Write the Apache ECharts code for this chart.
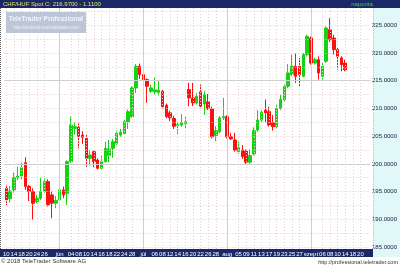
<!DOCTYPE html>
<html><head><meta charset="utf-8">
<script src="https://cdn.jsdelivr.net/npm/echarts@6/dist/echarts.min.js"></script>
<style>html,body{margin:0;padding:0;background:#fff}#c{width:400px;height:266px}</style>
</head><body><div id="c"></div><script>
// ---- data ----
const openV  = [195.6,193.7,195.3,197.5,197.8,200.2,195.9,195.0,193.2,193.8,195.0,196.8,194.4,192.9,193.5,195.3,194.7,200.4,206.4,206.6,205.2,204.6,201.0,202.2,200.7,199.2,200.4,201.5,202.8,203.7,205.2,205.5,207.6,208.5,213.7,217.6,216.1,215.2,213.1,213.0,212.9,213.1,210.6,209.2,208.2,206.9,207.0,207.3,213.4,211.9,211.0,213.0,210.8,211.2,209.9,205.1,205.8,208.3,208.5,204.9,204.3,202.2,202.5,202.3,200.3,201.8,206.1,207.9,209.7,209.4,207.4,206.7,210.0,211.6,214.0,216.1,217.6,217.6,215.8,219.7,222.7,218.2,218.8,215.8,218.5,224.2,222.7,220.6,219.1,218.2];
const closeV = [193.5,195.1,197.5,197.8,199.3,195.9,195.0,192.9,193.8,195.0,196.8,192.6,192.9,193.4,195.3,194.4,200.4,207.0,206.7,204.9,204.8,201.0,201.6,200.4,199.2,200.4,202.8,202.7,204.0,205.5,205.7,207.6,209.4,213.7,217.6,216.1,215.2,214.0,213.7,213.4,213.3,210.3,208.5,208.3,206.8,207.1,207.4,207.6,211.9,211.0,212.2,210.4,212.5,210.0,204.9,206.0,208.3,208.5,204.9,204.5,202.5,202.9,201.3,200.3,201.5,206.0,207.9,209.3,209.2,207.0,206.7,210.0,211.6,214.0,216.4,217.6,215.8,216.1,219.7,223.0,218.2,218.8,216.4,217.6,224.5,222.4,220.6,219.4,217.9,216.97];
const lowV   = [192.6,193.0,194.8,197.1,197.1,195.3,193.3,189.9,192.9,193.5,194.8,192.3,190.2,192.0,193.2,193.8,192.6,200.2,205.3,202.8,203.6,199.5,199.7,199.4,199.0,199.0,200.2,200.3,201.1,203.4,204.9,205.2,206.3,208.3,212.8,215.3,214.0,211.0,212.8,212.5,212.3,210.0,208.2,207.7,206.3,205.2,206.7,206.4,210.4,210.4,210.7,210.0,208.8,209.7,204.6,204.1,205.5,207.9,204.6,204.3,202.2,201.8,200.9,200.0,200.0,201.5,205.8,207.6,207.5,206.7,206.0,206.4,209.7,211.3,213.7,215.8,214.6,214.0,215.6,219.4,217.9,217.9,215.2,215.2,218.2,222.0,219.7,217.0,216.7,216.7];
const highV  = [196.2,196.0,198.4,199.5,200.2,201.2,196.2,195.6,194.4,197.5,197.4,197.2,195.0,194.2,195.9,195.9,200.6,208.5,207.5,207.3,205.9,205.4,202.4,202.4,201.0,201.4,204.0,204.3,204.5,206.0,206.3,208.0,209.8,214.0,218.0,218.1,218.8,215.4,214.3,215.6,214.9,213.4,210.9,209.6,208.7,207.6,209.0,208.5,214.6,214.6,212.8,214.3,213.1,212.6,210.3,206.8,208.6,211.9,208.8,205.6,205.6,204.0,203.4,202.6,202.6,206.6,209.7,209.8,211.6,210.3,208.8,210.6,212.5,214.3,218.0,219.7,220.0,219.1,220.0,223.3,223.0,219.1,219.4,218.2,224.8,226.3,223.3,220.9,219.4,218.8];
const tickIdx  = [0,2,4,6,8,10,14,17,19,21,23,25,27,29,31,33,36,39,41,43,45,47,49,51,53,55,58,61,63,65,67,69,71,73,75,77,80,83,85,87,89,91,93];
const tickText = ['10','14','18','20','24','26','jún','04','08','10','14','16','18','22','24','28','júl','06','08','12','14','16','20','22','26','28','aug','05','09','11','13','17','19','23','25','27','szept','06','08','10','14','18','20'];
const monthIdx = [14,36,58,80];
const yTicks = [185,190,195,200,205,210,215,220,225];
const yDotted = [185,187.5,190,192.5,195,197.5,202.5,205,207.5,210,212.5,217.5,220,222.5,225,227.5];
const ySolid = [200,215];
const slots = 96;
const lastPrice = 216.97;

// ---- build ----
const cats = [];
for (let i = 0; i < slots; i++) cats.push('d' + i);
const lbl = {};
tickIdx.forEach((k, j) => { lbl[k] = tickText[j]; });
const candles = openV.map((o, i) => [o, closeV[i], lowV[i], highV[i]]);

const gridLines = [];
tickIdx.forEach(k => { if (monthIdx.indexOf(k) < 0) gridLines.push({xAxis: cats[k], lineStyle: {color: '#e6cccc', type: [1, 2], width: 1}}); });
monthIdx.forEach(k => gridLines.push({xAxis: cats[k], lineStyle: {color: '#cfcfcf', type: 'solid', width: 1}}));
yDotted.forEach(v => gridLines.push({yAxis: v, lineStyle: {color: '#e6cccc', type: [1, 2], width: 1}}));
ySolid.forEach(v => gridLines.push({yAxis: v, lineStyle: {color: '#cfcfcf', type: 'solid', width: 1}}));

const FONT = 'Liberation Sans';
const chart = echarts.init(document.getElementById('c'));
chart.setOption({
  animation: false,
  backgroundColor: '#ffffff',
  grid: {left: 4, right: 27, top: 8, bottom: 17},
  xAxis: {
    type: 'category', data: cats, boundaryGap: true,
    axisLine: {show: false}, axisTick: {show: false}, splitLine: {show: false},
    axisLabel: {interval: 0, formatter: (v, i) => lbl[i] || '', color: '#ffffff', fontSize: 6, fontFamily: FONT, margin: 2}
  },
  yAxis: {
    type: 'value', position: 'right', min: 184.64, max: 228.12, scale: true,
    axisLine: {show: false}, axisTick: {show: false}, splitLine: {show: false},
    axisLabel: {customValues: yTicks, formatter: v => v.toFixed(4), color: '#1a1a3a', fontSize: 6, fontFamily: FONT, margin: 2, align: 'left'}
  },
  series: [
    {
      type: 'scatter', data: [], z: 1, silent: true,
      markLine: {silent: true, symbol: ['none', 'none'], label: {show: false}, animation: false, data: gridLines}
    },
    {
      type: 'candlestick', data: candles, z: 3, barWidth: 3,
      itemStyle: {color: '#13d313', color0: '#ff1010', borderColor: '#13d313', borderColor0: '#ff1010', borderWidth: 1},
      markLine: {
        silent: true, symbol: ['none', 'none'], animation: false,
        lineStyle: {opacity: 0},
        label: {show: true, position: 'end', distance: 0, formatter: lastPrice.toFixed(4), backgroundColor: '#ffff00', color: '#000', fontSize: 6, fontFamily: FONT, padding: [1, 1, 1, 1]},
        data: [{yAxis: lastPrice}]
      }
    }
  ],
  graphic: [
    {type: 'rect', z: -10, shape: {x: 373, y: 8, width: 27, height: 249}, style: {fill: '#e0f8f8'}},
    {type: 'rect', z: -10, shape: {x: 0, y: 249, width: 373, height: 8}, style: {fill: '#1b2868'}},
    {type: 'line', z: 50, shape: {x1: 373.5, y1: 8, x2: 373.5, y2: 249}, style: {stroke: '#d6c860', lineDash: [1, 1], lineWidth: 1}},
    {type: 'line', z: 50, shape: {x1: 0.5, y1: 8, x2: 0.5, y2: 249}, style: {stroke: '#555', lineDash: [1, 1], lineWidth: 1}},
    {type: 'rect', z: 50, shape: {x: 0, y: 0, width: 400, height: 8}, style: {fill: '#1b2868'}},
    {type: 'text', z: 51, style: {x: 3, y: 4.5, text: 'CHF/HUF Spot C: 216.9700 - 1.1100', fill: '#dfe85a', font: '6px "Liberation Sans"', verticalAlign: 'middle'}},
    {type: 'text', z: 51, style: {x: 362, y: 4.5, text: 'naponta', fill: '#3fd040', font: '6px "Liberation Sans"', verticalAlign: 'middle', align: 'center'}},
    {type: 'rect', z: 50, shape: {x: 6, y: 12, width: 80, height: 21}, style: {fill: '#b6c1d4', opacity: 0.92}},
    {type: 'text', z: 51, style: {x: 46, y: 19, text: 'TeleTrader Professional', fill: '#f2f5fa', font: 'bold 6.6px "Liberation Sans"', align: 'center', verticalAlign: 'middle'}},
    {type: 'text', z: 51, style: {x: 46, y: 27.5, text: 'http://professional.teletrader.com', fill: '#eef2f8', font: '4.5px "Liberation Sans"', align: 'center', verticalAlign: 'middle'}},
    {type: 'text', z: 51, style: {x: 1, y: 261.5, text: '© 2018 TeleTrader Software AG', fill: '#333', font: '6px "Liberation Sans"', verticalAlign: 'middle'}},
    {type: 'text', z: 51, style: {x: 398, y: 262, text: 'http://professional.teletrader.com', fill: '#333', font: '5.5px "Liberation Sans"', verticalAlign: 'middle', align: 'right'}}
  ]
});
</script></body></html>
